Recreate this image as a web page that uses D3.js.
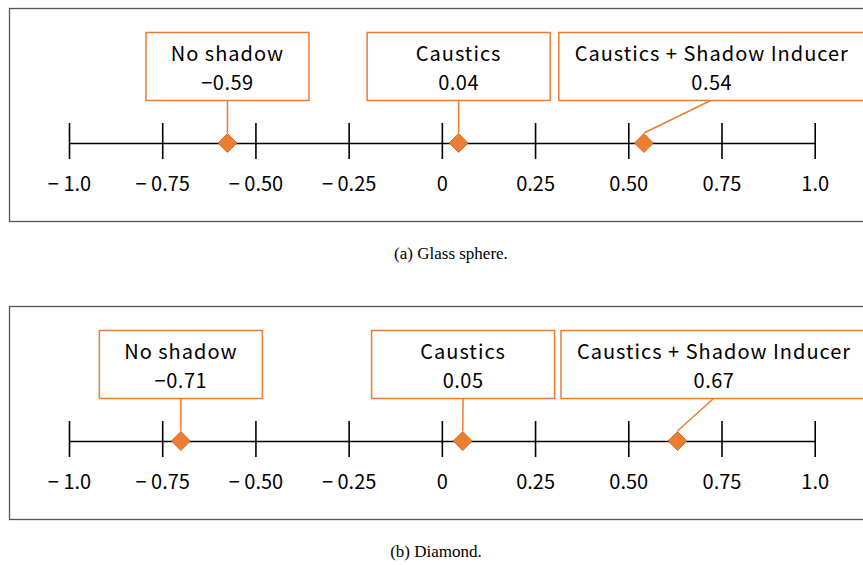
<!DOCTYPE html>
<html>
<head>
<meta charset="utf-8">
<script src="https://cdn.jsdelivr.net/npm/d3@7"></script>
<style>
  body { margin: 0; background: #fff; }
  svg { display: block; }
</style>
</head>
<body>
<script>
// data
var conditions = ["No shadow", "Caustics", "Caustics + Shadow Inducer"];
var glassScores = ["−0.59", "0.04", "0.54"];
var diamondScores = ["−0.71", "0.05", "0.67"];
// where the diamonds sit on the axis, as drawn in the figure
var glassMarks = [-0.575, 0.045, 0.542];
var diamondMarks = [-0.70, 0.056, 0.632];
// where each callout box is centred, in axis units
var glassBoxAt = [-0.575, 0.045, 0.724];
var diamondBoxAt = [-0.70, 0.057, 0.73];
var tickValues = [-1, -0.75, -0.5, -0.25, 0, 0.25, 0.5, 0.75, 1];
var tickLabels = ["− 1.0", "− 0.75", "− 0.50", "− 0.25", "0", "0.25", "0.50", "0.75", "1.0"];
var captions = ["(a) Glass sphere.", "(b) Diamond."];

var W = 863, H = 565;
var orange = "#ED7D31";
var font = "'Noto Sans CJK JP', 'Noto Sans', sans-serif";
var boxW = [163, 183, 306];

var svg = d3.select("body").append("svg")
    .attr("width", W)
    .attr("height", H);

var x = d3.scaleLinear()
    .domain([-1, 1])
    .range([69, 814.7]);

function panel(top, scores, marks, boxAt, caption, capX) {
  var g = svg.append("g")
      .attr("transform", "translate(0," + top + ")");

  // frame
  g.append("rect")
      .attr("x", 9.5).attr("y", 8.5)
      .attr("width", 870).attr("height", 213)
      .attr("fill", "none")
      .attr("stroke", "#555")
      .attr("stroke-width", 1.3);

  var axisY = 143;
  var axis = g.append("g")
      .attr("transform", "translate(0," + axisY + ")")
      .call(d3.axisBottom(x)
        .tickValues(tickValues)
        .tickSizeInner(16)
        .tickSizeOuter(0)
        .tickFormat(function(d, i) { return tickLabels[i]; }));
  axis.select(".domain").attr("stroke", "#000").attr("stroke-width", 1.6);
  axis.selectAll(".tick line")
      .attr("y1", -20).attr("y2", 16)
      .attr("stroke", "#000").attr("stroke-width", 1.6);
  axis.selectAll(".tick text")
      .attr("y", 48).attr("dy", 0)
      .attr("fill", "#000")
      .style("font-family", font)
      .style("font-size", "20px");

  var boxTop = 32, boxH = 68;

  // leader lines
  g.selectAll(".leader")
    .data(conditions)
    .enter().append("line")
      .attr("class", "leader")
      .attr("x1", function(d, i) { return x(boxAt[i]); })
      .attr("y1", boxTop + boxH)
      .attr("x2", function(d, i) { return x(marks[i]); })
      .attr("y2", axisY - 10)
      .attr("stroke", orange)
      .attr("stroke-width", 1.5);

  // diamonds
  g.selectAll(".mark")
    .data(marks)
    .enter().append("path")
      .attr("class", "mark")
      .attr("transform", function(d) { return "translate(" + x(d) + "," + axisY + ")"; })
      .attr("d", "M0,-9.5L9.5,0L0,9.5L-9.5,0Z")
      .attr("fill", orange)
      .attr("stroke", "#C0601F")
      .attr("stroke-width", 0.8);

  // callout boxes
  var boxes = g.selectAll(".callout")
    .data(conditions)
    .enter().append("g")
      .attr("class", "callout")
      .attr("transform", function(d, i) { return "translate(" + x(boxAt[i]) + "," + boxTop + ")"; });
  boxes.append("rect")
      .attr("x", function(d, i) { return -boxW[i] / 2; })
      .attr("y", 0.5)
      .attr("width", function(d, i) { return boxW[i]; })
      .attr("height", boxH)
      .attr("fill", "#fff")
      .attr("stroke", orange)
      .attr("stroke-width", 1.5);
  boxes.append("text")
      .attr("y", 29)
      .attr("text-anchor", "middle")
      .style("font-family", font)
      .style("font-size", "20px")
      .style("letter-spacing", "1px")
      .text(function(d) { return d; });
  boxes.append("text")
      .attr("y", 58)
      .attr("text-anchor", "middle")
      .style("font-family", font)
      .style("font-size", "20px")
      .style("letter-spacing", "0.5px")
      .text(function(d, i) { return scores[i]; });

  // caption
  g.append("text")
      .attr("x", capX)
      .attr("y", 259)
      .attr("text-anchor", "middle")
      .style("font-family", "'Liberation Serif', 'Times New Roman', serif")
      .style("font-size", "17px")
      .text(caption);
}

panel(0, glassScores, glassMarks, glassBoxAt, captions[0], 451);
panel(298, diamondScores, diamondMarks, diamondBoxAt, captions[1], 436);
</script>
</body>
</html>
